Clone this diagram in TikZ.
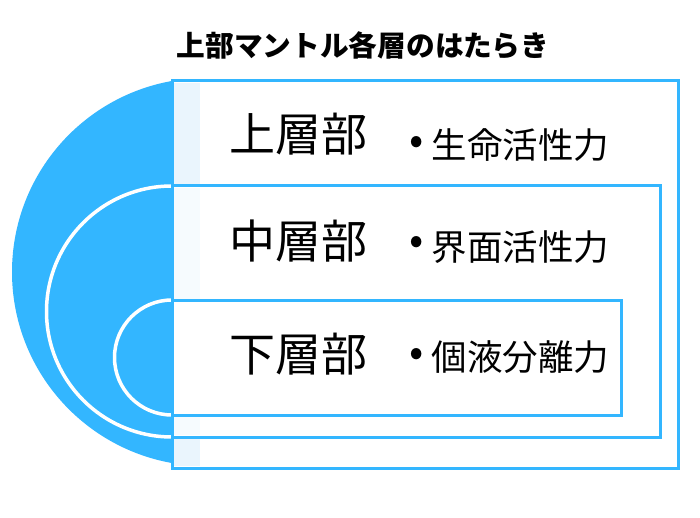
\documentclass[tikz,border=0pt]{standalone}
\usepackage{fontspec}
\newfontfamily\jp{Noto Sans CJK JP}
\definecolor{lblue}{HTML}{33B6FF}
\definecolor{strip}{HTML}{EAF5FD}
\definecolor{stripb}{HTML}{F6FBFE}
\tikzset{
  boxline/.style={draw=lblue, line width=3pt, fill=white},
  whitearc/.style={draw=white, line width=3.5pt},
  title/.style={font=\jp\bfseries\fontsize{28.7}{32}\selectfont, inner sep=0pt},
  layer/.style={font=\jp\fontsize{46}{50}\selectfont, inner sep=0pt},
  item/.style={font=\jp\fontsize{35.5}{38}\selectfont, inner sep=0pt, anchor=west},
  dot/.style={font=\jp\fontsize{42}{46}\selectfont, inner sep=0pt}
}
\begin{document}
\begin{tikzpicture}[x=1pt,y=-1pt]
\useasboundingbox (0,0) rectangle (700,518);
\fill[white] (0,0) rectangle (700,518);
% blue half disc and white arcs
\begin{scope}
  \clip (0,0) rectangle (172,518);
  \fill[lblue] (206,272) circle (194);
  \draw[whitearc] (172,311.5) circle (125.5);
  \draw[whitearc] (172,357.5) circle (57.5);
\end{scope}
% outer box
\draw[boxline] (172,81) rectangle (678,468);
\fill[strip] (174,83) rectangle (200,466);
% middle box
\draw[boxline] (172,186) rectangle (660,437);
\fill[stripb] (174,188) rectangle (200,435);
% inner box
\draw[boxline] (172,300) rectangle (621,415);
% texts
\node[title] (t) at (363,45) {上部マントル各層のはたらき};
\node[layer] (l1) at (298.5,134) {上層部};
\node[layer] (l2) at (298.5,241) {中層部};
\node[layer] (l3) at (298.5,354) {下層部};
\node[dot] (d1) at (417,145) {•};
\node[dot] (d2) at (417,245) {•};
\node[dot] (d3) at (417,357) {•};
\node[item] (i1) at (431.5,145) {生命活性力};
\node[item] (i2) at (431.5,247) {界面活性力};
\node[item] (i3) at (431.5,357) {個液分離力};
\end{tikzpicture}
\end{document}
